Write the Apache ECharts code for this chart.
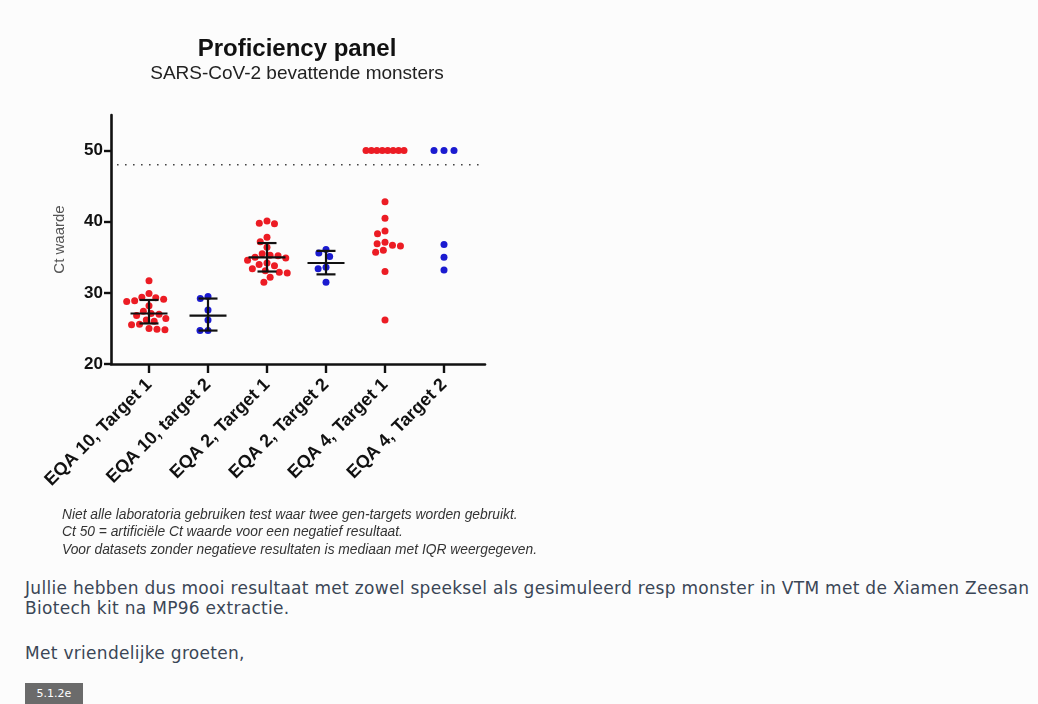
<!DOCTYPE html>
<html><head><meta charset="utf-8">
<script src="https://cdn.jsdelivr.net/npm/echarts@6/dist/echarts.min.js"></script>
<style>
html,body{margin:0;padding:0;background:#fcfcfc;width:1038px;height:704px;overflow:hidden;}
#chart{position:absolute;left:0;top:0;width:1038px;height:565px;}
.txt{position:absolute;left:25px;font-family:'DejaVu Sans',sans-serif;font-size:17px;letter-spacing:0.3px;color:#3a4656;white-space:nowrap;line-height:20px;}
#tag{position:absolute;left:25px;top:683px;width:58px;height:21px;background:#6b6b6b;color:#fff;font:11px 'DejaVu Sans',sans-serif;line-height:21px;text-align:center;}
</style></head>
<body>
<div id="chart"></div>
<div class="txt" style="top:578px;">Jullie hebben dus mooi resultaat met zowel speeksel als gesimuleerd resp monster in VTM met de Xiamen Zeesan</div>
<div class="txt" style="top:598px;">Biotech kit na MP96 extractie.</div>
<div class="txt" style="top:643px;">Met vriendelijke groeten,</div>
<div id="tag">5.1.2e</div>
<script>
// ---- data ----
const categories = ['EQA 10, Target 1', 'EQA 10, target 2', 'EQA 2, Target 1', 'EQA 2, Target 2', 'EQA 4, Target 1', 'EQA 4, Target 2'];
const eqa10Target1 = [31.7, 29.9, 29.1, 29.4, 29.3, 28.9, 28.8, 28.2, 27.4, 27.1, 27.0, 26.8, 26.4, 26.2, 26.0, 25.6, 25.5, 25.0, 24.8, 24.9];
const eqa10Target2 = [29.5, 29.2, 27.6, 26.2, 24.7, 24.7];
const eqa2Target1 = [40.1, 39.8, 39.7, 37.8, 37.2, 36.4, 35.5, 35.3, 35.2, 35.0, 34.9, 34.6, 34.2, 34.0, 33.8, 33.4, 33.1, 32.9, 32.8, 32.2, 31.5];
const eqa2Target2 = [36.1, 35.6, 35.1, 33.6, 33.4, 31.5];
const eqa4Target1 = [50, 50, 50, 50, 50, 50, 50, 50, 42.8, 40.5, 38.7, 38.3, 37.1, 36.9, 36.7, 36.6, 36.0, 35.7, 33.0, 26.2];
const eqa4Target2 = [50, 50, 50, 36.8, 35.0, 33.2];
const medians = [27.1, 26.8, 35.0, 34.2, null, null];
const q1 = [25.7, 24.7, 33.0, 32.6, null, null];
const q3 = [29.0, 29.2, 37.0, 35.9, null, null];
const negativeCutoff = 48;
const yTicks = [20, 30, 40, 50];
const yMax = 55;
const titleText = 'Proficiency panel';
const subtitleText = 'SARS-CoV-2 bevattende monsters';
const yName = 'Ct waarde';
const notes = [
  'Niet alle laboratoria gebruiken test waar twee gen-targets worden gebruikt.',
  'Ct 50 = artificiële Ct waarde voor een negatief resultaat.',
  'Voor datasets zonder negatieve resultaten is mediaan met IQR weergegeven.'
];

// ---- style / layout ----
const groups = [eqa10Target1, eqa10Target2, eqa2Target1, eqa2Target2, eqa4Target1, eqa4Target2];
const RED = '#ec1c24', BLUE = '#1b1bd0';
const groupColors = [RED, BLUE, RED, BLUE, RED, BLUE];
const G = {top: 115, height: 249};
const plotGrid = {left: 119.5, width: 354, top: G.top, height: G.height};
const axisGrid = {left: 111, width: 374, top: G.top, height: G.height};
const yMin = yTicks[0];
const pxPerUnit = G.height / (yMax - yMin);
const FONT = '"Liberation Sans", Arial, sans-serif';

function swarm(values, d, rowMax) {
  const off = new Array(values.length).fill(0);
  const counts = {};
  values.forEach(v => counts[v] = (counts[v] || 0) + 1);
  const placed = [];
  Object.keys(counts).forEach(k => {
    if (counts[k] >= 3) {
      const idx = values.map((v, i) => (v == k ? i : -1)).filter(i => i >= 0);
      const m = idx.length;
      const sp = Math.min(10, rowMax / (m - 1));
      idx.forEach((i, j) => { off[i] = (j - (m - 1) / 2) * sp; placed.push({x: off[i], y: values[i] * pxPerUnit}); });
    }
  });
  const rest = values.map((v, i) => i).filter(i => counts[values[i]] < 3).sort((a, b) => values[b] - values[a]);
  rest.forEach(i => {
    const y = values[i] * pxPerUnit;
    const cands = [0];
    placed.forEach(p => {
      const dy = Math.abs(p.y - y);
      if (dy < d) { const dx = Math.sqrt(d * d - dy * dy); cands.push(p.x + dx, p.x - dx); }
    });
    cands.sort((a, b) => Math.abs(a) - Math.abs(b) || a - b);
    let best = 0;
    for (const c of cands) {
      if (placed.every(p => Math.hypot(p.x - c, p.y - y) >= d - 1e-6)) { best = c; break; }
    }
    off[i] = best; placed.push({x: best, y});
  });
  return off;
}

const scatterSeries = groups.map((vals, gi) => {
  const offs = swarm(vals, 8, 38);
  return {
    type: 'scatter', xAxisIndex: 0, yAxisIndex: 0, z: 2,
    symbol: 'circle', symbolSize: 7,
    itemStyle: {color: groupColors[gi], opacity: 1},
    emphasis: {disabled: true},
    data: vals.map((v, i) => ({value: [gi, v], symbolOffset: [offs[i], 0]}))
  };
});

const barData = [];
medians.forEach((m, i) => { if (m != null) barData.push([i, m, q1[i], q3[i]]); });

const errSeries = {
  type: 'custom', xAxisIndex: 0, yAxisIndex: 0, z: 5,
  data: barData,
  renderItem(params, api) {
    const c = api.coord([api.value(0), api.value(1)]);
    const lo = api.coord([api.value(0), api.value(2)]);
    const hi = api.coord([api.value(0), api.value(3)]);
    const mw = 18.5, cw = 9.5;
    const st = {stroke: '#111', lineWidth: 2.2};
    return {type: 'group', children: [
      {type: 'line', shape: {x1: c[0] - mw, y1: c[1], x2: c[0] + mw, y2: c[1]}, style: st},
      {type: 'line', shape: {x1: c[0], y1: lo[1], x2: c[0], y2: hi[1]}, style: st},
      {type: 'line', shape: {x1: c[0] - cw, y1: lo[1], x2: c[0] + cw, y2: lo[1]}, style: st},
      {type: 'line', shape: {x1: c[0] - cw, y1: hi[1], x2: c[0] + cw, y2: hi[1]}, style: st}
    ]};
  }
};

const cutoffSeries = {
  type: 'line', xAxisIndex: 1, yAxisIndex: 1, symbol: 'none', z: 1, silent: true,
  lineStyle: {color: '#444', width: 1.6, type: [1.6, 6.4]},
  data: [[0.016, negativeCutoff], [0.985, negativeCutoff]]
};

const chart = echarts.init(document.getElementById('chart'), null, {renderer: 'canvas'});
chart.setOption({
  animation: false,
  backgroundColor: 'transparent',
  grid: [plotGrid, axisGrid],
  xAxis: [
    {
      type: 'category', gridIndex: 0, data: categories, boundaryGap: true,
      axisLine: {show: false},
      axisTick: {show: true, alignWithLabel: true, length: 9, lineStyle: {color: '#111', width: 2.4}},
      axisLabel: {rotate: 45, margin: 18, interval: 0, color: '#111', fontFamily: FONT, fontWeight: 'bold', fontSize: 18},
      splitLine: {show: false}
    },
    {
      type: 'value', gridIndex: 1, min: 0, max: 1,
      axisLine: {show: true, lineStyle: {color: '#111', width: 2.6}},
      axisTick: {show: false}, axisLabel: {show: false}, splitLine: {show: false}
    }
  ],
  yAxis: [
    {type: 'value', gridIndex: 0, min: yMin, max: yMax, show: false},
    {
      type: 'value', gridIndex: 1, min: yMin, max: yMax, interval: 10,
      name: yName, nameLocation: 'middle', nameGap: 44,
      nameTextStyle: {color: '#555', fontFamily: FONT, fontSize: 15},
      axisLine: {show: true, lineStyle: {color: '#111', width: 2.6}},
      axisTick: {show: true, length: 7, lineStyle: {color: '#111', width: 2.4}},
      axisLabel: {color: '#111', fontFamily: FONT, fontWeight: 'bold', fontSize: 17, margin: 8, showMaxLabel: false,
        formatter: v => (yTicks.indexOf(v) >= 0 ? String(v) : '')},
      splitLine: {show: false}
    }
  ],
  graphic: [
    {type: 'text', x: 297, y: 49, style: {text: titleText, fill: '#111', font: 'bold 24px ' + FONT, textAlign: 'center', textVerticalAlign: 'middle'}},
    {type: 'text', x: 297, y: 74, style: {text: subtitleText, fill: '#222', font: '19px ' + FONT, textAlign: 'center', textVerticalAlign: 'middle'}},
    ...notes.map((t, i) => ({type: 'text', x: 62, y: 515 + i * 17.5, style: {text: t, fill: '#333', font: 'italic 13.8px ' + FONT, textAlign: 'left', textVerticalAlign: 'middle'}}))
  ],
  series: [cutoffSeries, ...scatterSeries, errSeries]
});
</script>
</body></html>
